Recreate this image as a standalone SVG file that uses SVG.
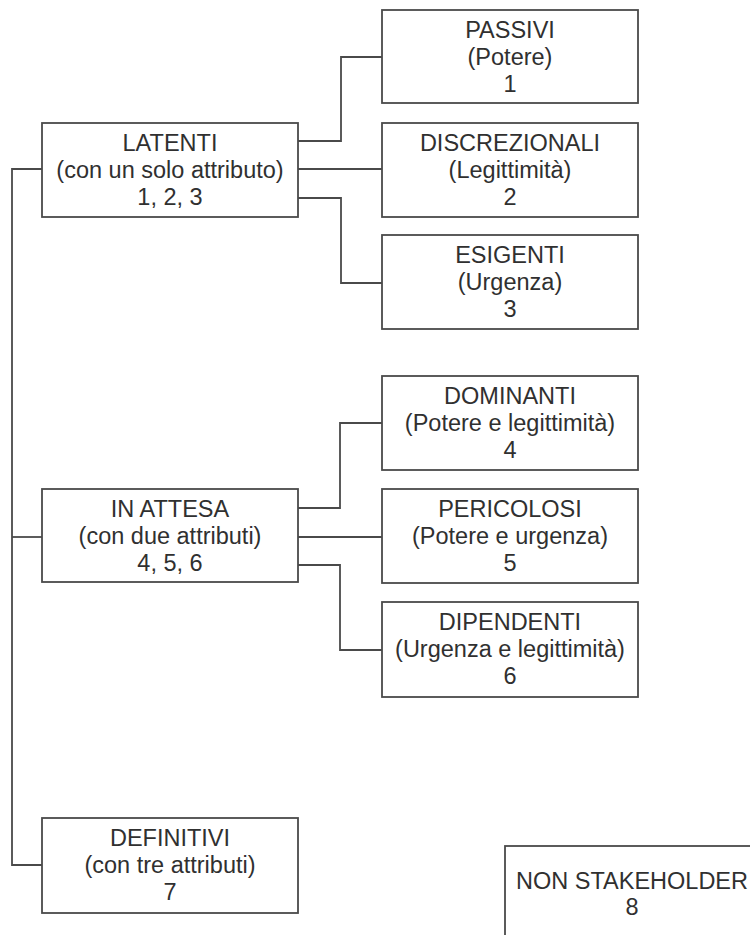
<svg xmlns="http://www.w3.org/2000/svg" width="750" height="935" viewBox="0 0 750 935">
<style>
.box{fill:#fff;stroke:#4a4a4a;stroke-width:1.8}
.c{fill:none;stroke:#4a4a4a;stroke-width:1.8}
text{font-family:"Liberation Sans",Arial,sans-serif;font-size:23.5px;fill:#303030;text-anchor:middle}
</style>
<rect width="750" height="935" fill="#fff"/>
<g id="connectors">
<polyline class="c" points="42,169 12,169 12,865 42,865"/>
<line class="c" x1="12" y1="537" x2="42" y2="537"/>
<polyline class="c" points="298,141 341,141 341,57 382,57"/>
<line class="c" x1="298" y1="169" x2="382" y2="169"/>
<polyline class="c" points="298,198 341,198 341,283 382,283"/>
<polyline class="c" points="298,508 340,508 340,423 382,423"/>
<line class="c" x1="298" y1="537" x2="382" y2="537"/>
<polyline class="c" points="298,565 340,565 340,650 382,650"/>
</g>
<g id="latenti"><rect class="box" x="42" y="123" width="256" height="94"/>
<text x="170" y="151">LATENTI</text><text x="170" y="178">(con un solo attributo)</text><text x="170" y="205">1, 2, 3</text></g>
<g id="passivi"><rect class="box" x="382" y="10" width="256" height="93"/>
<text x="510" y="38">PASSIVI</text><text x="510" y="65">(Potere)</text><text x="510" y="92">1</text></g>
<g id="discrezionali"><rect class="box" x="382" y="123" width="256" height="94"/>
<text x="510" y="151">DISCREZIONALI</text><text x="510" y="178">(Legittimità)</text><text x="510" y="205">2</text></g>
<g id="esigenti"><rect class="box" x="382" y="235" width="256" height="94"/>
<text x="510" y="263">ESIGENTI</text><text x="510" y="290">(Urgenza)</text><text x="510" y="317">3</text></g>
<g id="inattesa"><rect class="box" x="42" y="489" width="256" height="93"/>
<text x="170" y="517">IN ATTESA</text><text x="170" y="544">(con due attributi)</text><text x="170" y="571">4, 5, 6</text></g>
<g id="dominanti"><rect class="box" x="382" y="376" width="256" height="94"/>
<text x="510" y="404">DOMINANTI</text><text x="510" y="431">(Potere e legittimità)</text><text x="510" y="458">4</text></g>
<g id="pericolosi"><rect class="box" x="382" y="489" width="256" height="94"/>
<text x="510" y="517">PERICOLOSI</text><text x="510" y="544">(Potere e urgenza)</text><text x="510" y="571">5</text></g>
<g id="dipendenti"><rect class="box" x="382" y="602" width="256" height="95"/>
<text x="510" y="630">DIPENDENTI</text><text x="510" y="657">(Urgenza e legittimità)</text><text x="510" y="684">6</text></g>
<g id="definitivi"><rect class="box" x="42" y="818" width="256" height="95"/>
<text x="170" y="846">DEFINITIVI</text><text x="170" y="873">(con tre attributi)</text><text x="170" y="900">7</text></g>
<g id="nonstakeholder"><rect class="box" x="505" y="846" width="256" height="100"/>
<text x="632" y="889">NON STAKEHOLDER</text><text x="632" y="915">8</text></g>
</svg>
